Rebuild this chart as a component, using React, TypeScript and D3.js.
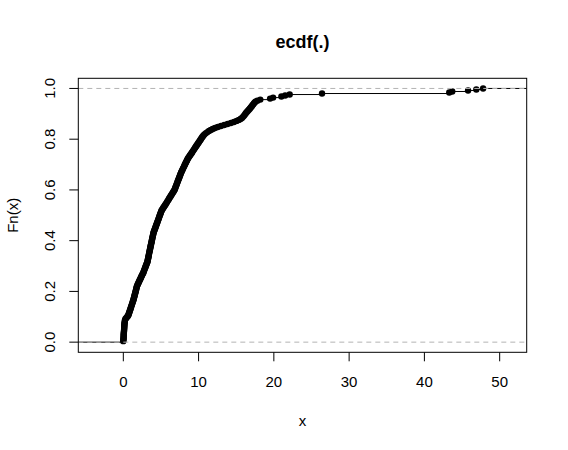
import React from "react";
import * as d3 from "d3";

// sorted sample values (n = 250)
const sampleX = [
  0.0, 0.01, 0.02, 0.03, 0.04, 0.04, 0.05, 0.06, 0.07, 0.08,
  0.09, 0.1, 0.11, 0.12, 0.12, 0.13, 0.14, 0.15, 0.17, 0.19,
  0.21, 0.23, 0.3, 0.41, 0.52, 0.63, 0.69, 0.73, 0.78, 0.82,
  0.87, 0.91, 0.96, 1.0, 1.05, 1.09, 1.14, 1.18, 1.23, 1.27,
  1.32, 1.36, 1.39, 1.43, 1.46, 1.5, 1.53, 1.57, 1.6, 1.64,
  1.67, 1.71, 1.74, 1.77, 1.8, 1.86, 1.93, 1.99, 2.05, 2.11,
  2.17, 2.24, 2.3, 2.36, 2.42, 2.48, 2.55, 2.63, 2.68, 2.73,
  2.78, 2.83, 2.89, 2.94, 2.99, 3.04, 3.09, 3.15, 3.2, 3.23,
  3.25, 3.28, 3.31, 3.34, 3.36, 3.39, 3.42, 3.45, 3.47, 3.5,
  3.53, 3.56, 3.59, 3.61, 3.64, 3.67, 3.7, 3.73, 3.76, 3.79,
  3.81, 3.84, 3.87, 3.9, 3.93, 3.96, 3.99, 4.02, 4.07, 4.12,
  4.17, 4.22, 4.27, 4.31, 4.36, 4.41, 4.46, 4.51, 4.56, 4.61,
  4.66, 4.71, 4.75, 4.8, 4.85, 4.9, 4.95, 5.0, 5.05, 5.1,
  5.19, 5.28, 5.36, 5.45, 5.54, 5.63, 5.72, 5.8, 5.88, 5.97,
  6.05, 6.13, 6.22, 6.3, 6.38, 6.47, 6.55, 6.63, 6.72, 6.8,
  6.85, 6.9, 6.95, 7.01, 7.06, 7.11, 7.16, 7.21, 7.26, 7.31,
  7.37, 7.42, 7.47, 7.52, 7.57, 7.62, 7.67, 7.73, 7.8, 7.86,
  7.93, 7.99, 8.06, 8.12, 8.19, 8.25, 8.32, 8.39, 8.45, 8.52,
  8.58, 8.67, 8.76, 8.85, 8.94, 9.04, 9.13, 9.22, 9.31, 9.4,
  9.49, 9.58, 9.67, 9.76, 9.85, 9.94, 10.03, 10.12, 10.21, 10.3,
  10.38, 10.47, 10.57, 10.68, 10.82, 10.98, 11.17, 11.38, 11.62, 11.88,
  12.18, 12.55, 12.97, 13.41, 13.85, 14.29, 14.7, 15.05, 15.35, 15.58,
  15.76, 15.9, 16.02, 16.12, 16.22, 16.32, 16.44, 16.56, 16.68, 16.8,
  16.9, 17.01, 17.11, 17.22, 17.32, 17.42, 17.55, 17.8, 18.2, 19.5,
  19.9, 21.0, 21.5, 22.1, 26.4, 43.3, 43.7, 45.8, 46.9, 47.8,
];

const xTicks = [0, 10, 20, 30, 40, 50];
const yTicks = [0, 0.2, 0.4, 0.6, 0.8, 1.0];

const W = 568;
const H = 450;
const left = 78.3;
const right = 526.7;
const top = 78.3;
const bottom = 352.3;
const font = "'Liberation Sans', Arial, sans-serif";

export default function App() {
  const x = d3.scaleLinear().domain([-5.98, 53.59]).range([left, right]);
  const y = d3.scaleLinear().domain([-0.04, 1.04]).range([bottom, top]);

  const n = sampleX.length;
  const pts = sampleX.map((v, i) => ({ x: v, F: (i + 1) / n }));

  // horizontal steps, R style (no verticals)
  const segs: { x0: number; x1: number; F: number }[] = [];
  segs.push({ x0: x.domain()[0], x1: pts[0].x, F: 0 });
  pts.forEach((p, i) => {
    const next = i < n - 1 ? pts[i + 1].x : x.domain()[1];
    segs.push({ x0: p.x, x1: next, F: p.F });
  });

  return (
    <svg width={W} height={H} style={{ position: "absolute", left: 0, top: 0, background: "#fff" }}>
      <defs>
        <clipPath id="plotclip">
          <rect x={left} y={top} width={right - left} height={bottom - top} />
        </clipPath>
      </defs>
      <rect x={0} y={0} width={W} height={H} fill="#fff" />

      <g clipPath="url(#plotclip)">
        {segs.map((s, i) => (
          <line key={"s" + i} x1={x(s.x0)} x2={x(s.x1)} y1={y(s.F)} y2={y(s.F)} stroke="#000" strokeWidth={1} />
        ))}
        {pts.map((p, i) => (
          <circle key={"p" + i} cx={x(p.x)} cy={y(p.F)} r={3.2} fill="#000" />
        ))}
        {[0, 1].map((h) => (
          <line key={"h" + h} x1={left} x2={right} y1={y(h)} y2={y(h)} stroke="#b3b3b3" strokeWidth={1} strokeDasharray="5,4" />
        ))}
      </g>

      <rect x={left} y={top} width={right - left} height={bottom - top} fill="none" stroke="#000" strokeWidth={1} />

      {xTicks.map((t) => (
        <g key={"xt" + t}>
          <line x1={x(t)} x2={x(t)} y1={bottom} y2={bottom + 9} stroke="#000" />
          <text x={x(t)} y={387} textAnchor="middle" fontFamily={font} fontSize={15}>
            {t}
          </text>
        </g>
      ))}
      {yTicks.map((t) => (
        <g key={"yt" + t}>
          <line x1={left - 9} x2={left} y1={y(t)} y2={y(t)} stroke="#000" />
          <text
            transform={`translate(55,${y(t)}) rotate(-90)`}
            textAnchor="middle"
            fontFamily={font}
            fontSize={15}
          >
            {t.toFixed(1)}
          </text>
        </g>
      ))}

      <text x={(left + right) / 2} y={47.7} textAnchor="middle" fontFamily={font} fontSize={18} fontWeight="bold">
        ecdf(.)
      </text>
      <text x={(left + right) / 2} y={425.7} textAnchor="middle" fontFamily={font} fontSize={15}>
        x
      </text>
      <text
        transform={`translate(17.5,${(top + bottom) / 2}) rotate(-90)`}
        textAnchor="middle"
        fontFamily={font}
        fontSize={15}
      >
        Fn(x)
      </text>
    </svg>
  );
}
